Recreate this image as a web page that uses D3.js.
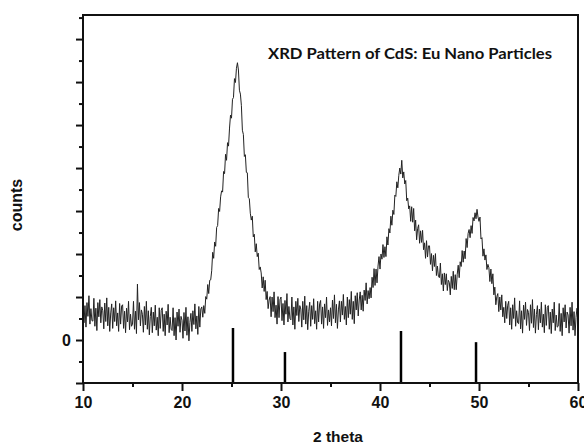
<!DOCTYPE html>
<html><head><meta charset="utf-8">
<script src="https://cdn.jsdelivr.net/npm/d3@7"></script>
<style>
html,body{margin:0;padding:0;background:#fff;}
svg{display:block;}
</style></head>
<body>
<svg id="chart" width="584" height="444"></svg>
<script>
// ---- data ----
const thetaStart = 10;   // 2 theta of first sample
const thetaStep = 0.1;   // sampling step (degrees)
// measured counts, one row per degree (10.0 ... 59.9), then 60.0
const counts = [
 110,40,80,30,87,55,103,37,73,45,
 44,97,32,74,22,87,54,94,40,77,
 68,26,86,43,98,33,76,20,63,84,
 27,75,43,91,33,63,20,85,37,79,
 82,27,67,17,74,42,90,24,60,32,
 37,90,25,67,15,130,47,87,33,70,
 60,18,78,35,90,25,68,12,55,76,
 17,65,33,81,23,53,10,75,27,69,
 75,20,60,10,67,35,83,17,53,25,
 22,75,10,52,0,65,32,72,18,55,
 46,4,64,21,76,11,54,-2,41,62,
 20,68,36,84,26,56,13,78,30,72,
 77,53,80,62,101,95,129,108,139,140,
 161,204,190,228,218,262,266,306,299,333,
 347,344,392,387,432,418,459,451,493,523,
 516,560,564,608,599,632,645,628,581,572,
 545,488,478,427,431,390,389,331,329,295,
 279,288,240,246,205,224,194,202,164,170,
 156,121,147,113,139,94,113,73,93,101,
 54,100,66,112,52,81,37,101,52,94,
 100,45,85,35,92,60,108,42,78,50,
 47,100,35,77,25,90,57,97,43,80,
 72,30,90,47,102,37,80,24,67,88,
 32,80,48,96,38,68,25,90,42,84,
 92,37,77,27,84,52,100,34,70,42,
 75,33,93,50,105,40,83,27,70,91,
 42,90,58,106,48,78,35,100,52,94,
 60,113,48,90,38,103,70,110,56,93,
 112,70,104,67,116,92,133,84,115,96,
 122,98,146,122,166,127,165,133,172,194,
 165,200,188,222,192,217,194,240,221,259,
 249,288,267,302,292,337,334,368,354,383,
 400,386,418,377,391,363,371,324,330,305,
 312,276,310,274,306,254,279,233,259,268,
 225,254,227,255,210,226,190,231,193,219,
 219,176,201,161,197,171,201,150,172,148,
 145,179,129,154,114,156,129,154,115,139,
 134,105,148,120,160,117,152,117,153,174,
 145,182,171,208,181,207,189,236,215,248,
 257,238,266,248,285,277,296,282,304,286,
 276,286,235,238,195,212,186,198,164,176,
 168,136,165,131,154,105,123,82,101,108,
 66,100,70,105,54,76,40,90,50,81,
 90,35,75,25,82,50,98,32,68,40,
 38,91,26,68,16,81,48,88,34,71,
 64,22,82,39,94,29,72,16,59,80,
 24,72,40,88,30,60,17,82,34,76,
 80,25,65,15,72,40,88,22,58,30,
 32,85,20,62,10,75,42,82,28,65,
 58,16,76,33,88,23,66,10,53,74,
 45
];
// reference (standard) pattern lines
const refTheta = [25.15, 30.4, 42.12, 49.7];
const refIntensity = [128, 72, 121, 95];
const refBase = -100;
// axes
const xTicks = [10, 20, 30, 40, 50, 60];
const xMinorTicks = [15, 25, 35, 45, 55];
const yMajorTicks = [-100, 0, 100, 200, 300, 400, 500, 600, 700];
const yMinorTicks = [-50, 50, 150, 250, 350, 450, 550, 650, 750];
const yLabelTicks = [0];
const xDomain = [10, 60];
const yDomain = [-100, 756];
const title = "XRD Pattern of CdS: Eu Nano Particles";
const xTitle = "2 theta";
const yTitle = "counts";

// ---- chart ----
(function () {
const svg = d3.select("#chart");
const pL = 83, pR = 578, pT = 15, pB = 383;
const x = d3.scaleLinear().domain(xDomain).range([pL, pR]);
const y = d3.scaleLinear().domain(yDomain).range([pB, pT]);

const series = counts.map((c, i) => ({t: thetaStart + i * thetaStep, c}));

// curve
svg.append("path")
  .datum(series)
  .attr("fill", "none")
  .attr("stroke", "#222")
  .attr("stroke-width", 1)
  .attr("d", d3.line().x(d => x(d.t)).y(d => y(d.c)));

// reference sticks
svg.append("g").selectAll("line").data(refTheta).join("line")
  .attr("x1", d => x(d)).attr("x2", d => x(d))
  .attr("y1", y(refBase))
  .attr("y2", (d, i) => y(refBase + refIntensity[i]))
  .attr("stroke", "#000").attr("stroke-width", 2.5);

// frame
svg.append("rect")
  .attr("x", pL).attr("y", pT)
  .attr("width", pR - pL).attr("height", pB - pT)
  .attr("fill", "none").attr("stroke", "#111").attr("stroke-width", 2);

const font = "'Liberation Sans', Arial, sans-serif";

// x axis
const xAxis = svg.append("g").attr("transform", `translate(0,${pB})`)
  .call(d3.axisBottom(x).tickValues(xTicks).tickSize(8).tickSizeOuter(0).tickPadding(6));
xAxis.select(".domain").remove();
xAxis.selectAll(".tick line").attr("stroke", "#111").attr("stroke-width", 2);
xAxis.selectAll(".tick text").attr("font-family", font).attr("font-weight", "bold")
  .attr("font-size", 16).attr("fill", "#111");
const xMinor = svg.append("g").attr("transform", `translate(0,${pB})`)
  .call(d3.axisBottom(x).tickValues(xMinorTicks).tickSize(4).tickSizeOuter(0).tickFormat(""));
xMinor.select(".domain").remove();
xMinor.selectAll(".tick line").attr("stroke", "#111").attr("stroke-width", 2);

// y axis
const yAxis = svg.append("g").attr("transform", `translate(${pL},0)`)
  .call(d3.axisLeft(y).tickValues(yMajorTicks).tickSize(7).tickSizeOuter(0).tickPadding(5)
    .tickFormat(d => yLabelTicks.includes(d) ? d3.format("d")(d) : ""));
yAxis.select(".domain").remove();
yAxis.selectAll(".tick line").attr("stroke", "#111").attr("stroke-width", 2);
yAxis.selectAll(".tick text").attr("font-family", font).attr("font-weight", "bold")
  .attr("font-size", 16).attr("fill", "#111");
const yMinor = svg.append("g").attr("transform", `translate(${pL},0)`)
  .call(d3.axisLeft(y).tickValues(yMinorTicks).tickSize(4).tickSizeOuter(0).tickFormat(""));
yMinor.select(".domain").remove();
yMinor.selectAll(".tick line").attr("stroke", "#111").attr("stroke-width", 2);

// axis titles
svg.append("text").attr("x", 338).attr("y", 442).attr("text-anchor", "middle")
  .attr("font-family", font).attr("font-weight", "bold").attr("font-size", 15.5)
  .attr("fill", "#111").text(xTitle);
svg.append("text").attr("transform", "translate(22,205) rotate(-90)").attr("text-anchor", "middle")
  .attr("font-family", font).attr("font-weight", "bold").attr("font-size", 16)
  .attr("fill", "#111").text(yTitle);

// title
svg.append("text").attr("x", 268).attr("y", 59)
  .attr("font-family", "Lato, 'Open Sans', sans-serif").attr("font-weight", "bold")
  .attr("font-size", 15).attr("fill", "#111")
  .attr("textLength", 284).attr("lengthAdjust", "spacingAndGlyphs")
  .text(title);
})();
</script>
</body></html>
